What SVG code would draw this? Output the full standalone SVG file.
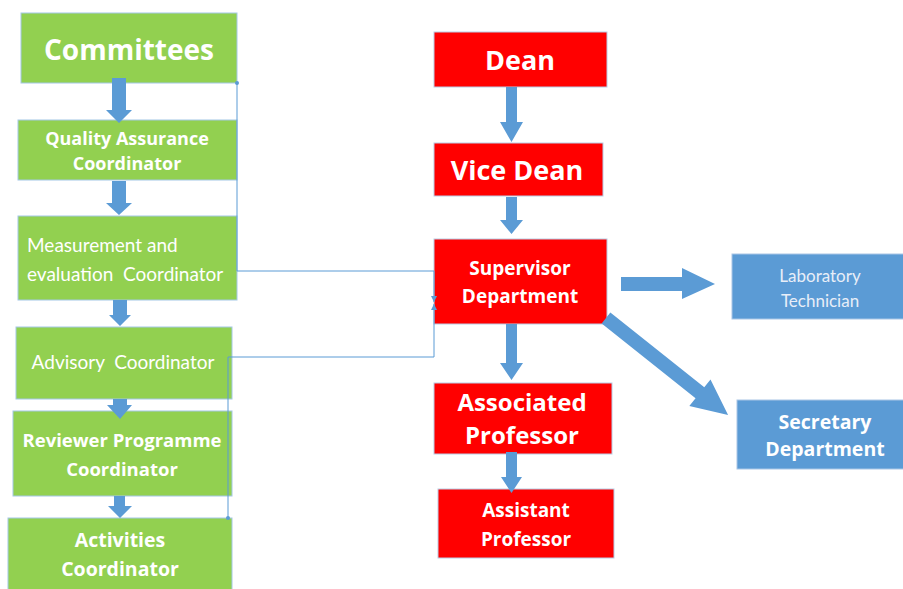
<svg xmlns="http://www.w3.org/2000/svg" width="903" height="589" viewBox="0 0 903 589">
<defs>
<style>
.g{fill:#92D050;stroke:#a4c8e6;stroke-width:1}
.r{fill:#FF0000;stroke:#b9cde6;stroke-width:1}
.b{fill:#5B9BD5;stroke:#a9c6e6;stroke-width:1}
.t{font-family:Lato,"Liberation Sans",sans-serif;fill:#fff;text-anchor:middle}
.bd{font-family:"Open Sans","Liberation Sans",sans-serif;font-weight:bold}
.ar{fill:#5B9BD5}
.ln{fill:none;stroke:#5B9BD5;stroke-width:1}
</style>
<marker id="ah" viewBox="0 0 8 8" refX="8" refY="4" markerWidth="6" markerHeight="6" orient="auto" markerUnits="userSpaceOnUse">
<path d="M0,0 L8,4 L0,8 Z" fill="#5B9BD5"/>
</marker>
</defs>
<rect width="903" height="589" fill="#fff"/>

<g id="committees"><rect class="g" x="21" y="13" width="216" height="70"/><text class="t bd" x="129" y="60" font-size="28">Committees</text></g>
<g id="quality"><rect class="g" x="18" y="120" width="219" height="60"/><text class="t bd" x="127" y="145" font-size="18">Quality Assurance</text><text class="t bd" x="127" y="170" font-size="18">Coordinator</text></g>
<g id="measurement"><rect class="g" x="18" y="216" width="219" height="84"/><text class="t" x="27" y="252" font-size="19" style="text-anchor:start">Measurement and</text><text class="t" x="27" y="281" font-size="19" style="text-anchor:start" xml:space="preserve">evaluation  Coordinator</text></g>
<g id="advisory"><rect class="g" x="16" y="327" width="216" height="72"/><text class="t" x="123" y="369" font-size="19" xml:space="preserve">Advisory  Coordinator</text></g>
<g id="reviewer"><rect class="g" x="13" y="411" width="219" height="85"/><text class="t bd" x="122" y="447" font-size="18.5">Reviewer Programme</text><text class="t bd" x="122" y="476" font-size="18.5">Coordinator</text></g>
<g id="activities"><rect class="g" x="8" y="518" width="224" height="80"/><text class="t bd" x="120" y="547" font-size="19.5">Activities</text><text class="t bd" x="120" y="576" font-size="19.5">Coordinator</text></g>

<g id="dean"><rect class="r" x="434" y="32" width="173" height="55"/><text class="t bd" x="520" y="70" font-size="27">Dean</text></g>
<g id="vicedean"><rect class="r" x="434" y="143" width="169" height="53"/><text class="t bd" x="517" y="180" font-size="27">Vice Dean</text></g>
<g id="supervisor"><rect class="r" x="434" y="239" width="173" height="85"/><text class="t bd" x="520" y="275" font-size="19">Supervisor</text><text class="t bd" x="520" y="303" font-size="19">Department</text></g>
<g id="associated"><rect class="r" x="434" y="383" width="178" height="71"/><text class="t bd" x="522" y="411" font-size="24">Associated</text><text class="t bd" x="522" y="444" font-size="24">Professor</text></g>
<g id="assistant"><rect class="r" x="438" y="489" width="176" height="69"/><text class="t bd" x="526" y="517" font-size="19">Assistant</text><text class="t bd" x="526" y="546" font-size="19">Professor</text></g>

<g id="lab"><rect class="b" x="732" y="254" width="175" height="65"/><text class="t" x="820" y="282" font-size="17" style="fill:#e8eef8">Laboratory</text><text class="t" x="820" y="307" font-size="17" style="fill:#e8eef8">Technician</text></g>
<g id="secretary"><rect class="b" x="737" y="400" width="170" height="69"/><text class="t bd" x="825" y="429" font-size="19.5">Secretary</text><text class="t bd" x="825" y="456" font-size="19.5">Department</text></g>

<g id="connectors">
<polyline class="ln" points="237,83 237,271 434,271 434,302" marker-end="url(#ah)"/>
<polyline class="ln" points="228,518 228,357 434,357 434,304" marker-end="url(#ah)"/>
<circle cx="237" cy="83" r="2" fill="#5B9BD5"/>
<circle cx="228" cy="518" r="2" fill="#5B9BD5"/>
<polygon class="ar" points="112,78 126,78 126,110 132,110 119,123 106,110 112,110"/>
<polygon class="ar" points="112,181 126,181 126,203 132,203 119,215 106,203 112,203"/>
<polygon class="ar" points="113,300 127,300 127,315 131,315 120,326 109,315 113,315"/>
<polygon class="ar" points="113,399 127,399 127,405 132,405 120,419 107,405 113,405"/>
<polygon class="ar" points="114,496 125,496 125,506 132,506 120,518 108,506 114,506"/>
<polygon class="ar" points="506,87 517,87 517,122 523,122 511.5,142 500,122 506,122"/>
<polygon class="ar" points="506,197 517,197 517,220 523,220 511.5,234 500,220 506,220"/>
<polygon class="ar" points="506,324 517,324 517,363 523,363 511.5,380 500,363 506,363"/>
<polygon class="ar" points="506,452 517,452 517,477 522,477 511.5,493 501,477 506,477"/>
<polygon class="ar" points="621,277 682,277 682,268 715,284 682,299 682,291 621,291"/>
<polygon class="ar" transform="translate(606,318) rotate(38.5)" points="0,-7 120,-7 120,-17 156,0 120,17 120,7 0,7"/>
</g>
</svg>
